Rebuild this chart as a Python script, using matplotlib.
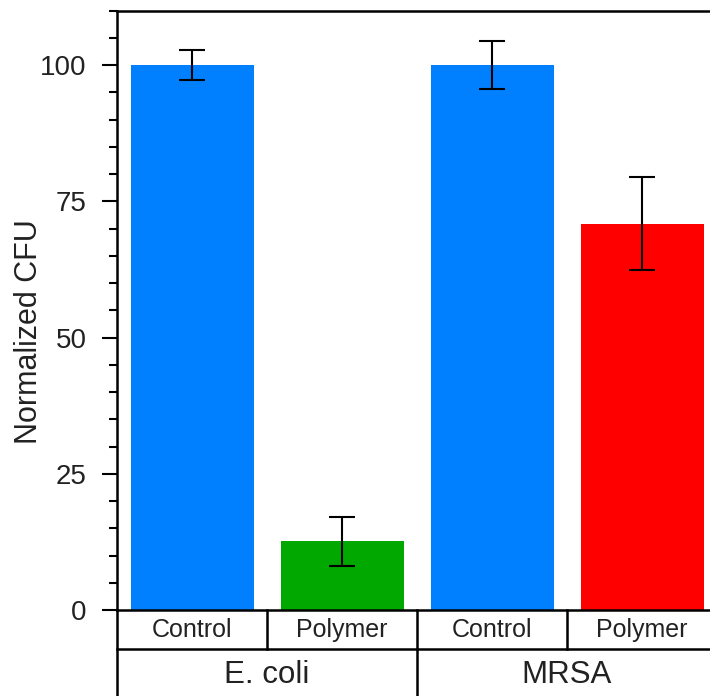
import matplotlib
matplotlib.use("Agg")
import matplotlib.pyplot as plt
import matplotlib.transforms as mtransforms
from matplotlib.ticker import MultipleLocator

plt.rcParams["font.family"] = ["Liberation Sans", "DejaVu Sans"]

# Data
organisms = ["E. coli", "MRSA"]
treatments = ["Control", "Polymer"]
cfu_mean = [100.0, 12.6, 100.0, 70.9]
cfu_err = [2.7, 4.5, 4.4, 8.5]
bar_colors = ["#0080FF", "#00A800", "#0080FF", "#FF0000"]

W, H, DPI = 710, 696, 100
fig = plt.figure(figsize=(W / DPI, H / DPI), dpi=DPI)

# axes box in pixels (left, top, right, bottom); it runs slightly past the right edge
ax_l, ax_t, ax_r, ax_b = 117, 10.7, 717, 610
ax = fig.add_axes([ax_l / W, 1 - ax_b / H, (ax_r - ax_l) / W, (ax_b - ax_t) / H])

labels = [t for _ in organisms for t in treatments]
xpos = list(range(len(labels)))

ax.bar(xpos, cfu_mean, width=0.82, color=bar_colors, zorder=2)
ax.errorbar(xpos, cfu_mean, yerr=cfu_err, fmt="none", ecolor="black",
            elinewidth=1.5, capsize=9.5, capthick=1.5, zorder=3)

ax.set_xlim(-0.5, len(labels) - 0.5)
ax.set_ylim(0, 110)
ax.yaxis.set_major_locator(MultipleLocator(25))
ax.yaxis.set_minor_locator(MultipleLocator(5))
ax.tick_params(axis="y", which="major", direction="out", length=11, width=1.5,
               labelsize=20, pad=11, labelcolor="#222222")
ax.tick_params(axis="y", which="minor", direction="out", length=5.5, width=1.5)
ax.tick_params(axis="x", which="both", bottom=False, labelbottom=False)
for side in ["left", "top", "bottom", "right"]:
    ax.spines[side].set_linewidth(1.8)

fig.text(28.7 / W, 1 - 332 / H, "Normalized CFU", rotation=90, fontsize=22,
         ha="center", va="center", color="#222222")

# Two-level category table beneath the axes
ax_h = ax_b - ax_t
def yfrac(py):
    return -(py - ax_b) / ax_h

trans = mtransforms.blended_transform_factory(ax.transData, ax.transAxes)
line_kw = dict(color="black", lw=1.8, clip_on=False, transform=trans)
row1_bot = yfrac(649)
row2_bot = yfrac(720)

ax.plot([-0.5, len(labels) - 0.5], [row1_bot, row1_bot], **line_kw)
ax.plot([-0.5, -0.5], [0, row2_bot], **line_kw)
for i in range(1, len(labels)):
    bottom = row2_bot if i % len(treatments) == 0 else row1_bot
    ax.plot([i - 0.5, i - 0.5], [0, bottom], **line_kw)

for x, lab in zip(xpos, labels):
    ax.text(x, yfrac(630), lab, transform=trans, ha="center", va="center",
            fontsize=18, color="#222222", clip_on=False)

n = len(treatments)
for g, org in enumerate(organisms):
    xc = g * n + (n - 1) / 2
    ax.text(xc, yfrac(675), org, transform=trans, ha="center", va="center",
            fontsize=22.5, color="#222222", clip_on=False)

fig.savefig("out.png", dpi=DPI)
